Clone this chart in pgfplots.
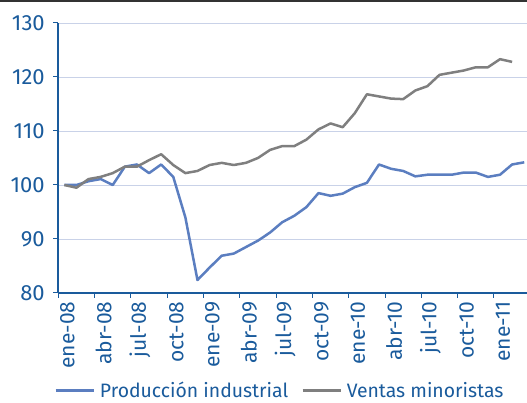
\documentclass[border=0pt]{standalone}
\usepackage{fontspec}
\setmainfont{Fira Sans}
\usepackage{pgfplots}
\pgfplotsset{compat=1.18}
\definecolor{axblue}{HTML}{1A5B9C}
\definecolor{serblue}{HTML}{5B7EC0}
\definecolor{sergray}{HTML}{7F7F7F}
\definecolor{gridc}{HTML}{C9D2E8}
\begin{document}
\begin{tikzpicture}
\begin{axis}[
  at={(0,0)}, anchor=south west,
  scale only axis, width=468.7pt, height=270pt,
  xmin=-0.5, xmax=38.23, ymin=80, ymax=130,
  axis x line=bottom, axis y line=left,
  axis line style={draw=axblue, line width=1.6pt, -},
  ytick={80,90,...,130},
  ymajorgrids, grid style={draw=gridc, line width=0.9pt},
  tick align=outside,
  ytick style={draw=axblue, line width=1pt},
  major tick length=5pt,
  xtick={0,3,...,36},
  xticklabels={ene-08,abr-08,jul-08,oct-08,ene-09,abr-09,jul-09,oct-09,ene-10,abr-10,jul-10,oct-10,ene-11},
  xtick style={draw=none},
  extra x ticks={-0.5,2.5,...,36.5},
  extra x tick labels={},
  extra x tick style={xtick style={draw=axblue, line width=1pt}, grid=none},
  xticklabel style={rotate=90, anchor=east, yshift=-3pt, font=\fontsize{21}{22}\selectfont, text=axblue},
  yticklabel style={xshift=-5pt, font=\fontsize{22}{24}\selectfont, text=axblue},
  /pgf/number format/assume math mode=true,
  legend style={at={(0.473,-0.362)}, anchor=center, draw=none, fill=none,
    legend columns=2, font=\fontsize{19.4}{21}\selectfont, text=axblue,
    /tikz/every odd column/.append style={column sep=3pt},
    /tikz/every even column/.append style={column sep=11pt}},
  legend image code/.code={\draw[#1] (0pt,0pt) -- (38pt,0pt);},
  clip=false,
]
\addplot[serblue, line width=2.5pt, line join=round] coordinates {
(0,100.0)(1,100.0)(2,100.7)(3,101.1)(4,100.0)(5,103.4)(6,103.8)(7,102.2)(8,103.8)(9,101.5)
(10,94.0)(11,82.4)(12,84.7)(13,86.9)(14,87.3)(15,88.5)(16,89.7)(17,91.2)(18,93.1)(19,94.3)
(20,95.9)(21,98.5)(22,98.0)(23,98.4)(24,99.6)(25,100.4)(26,103.8)(27,103.0)(28,102.6)(29,101.6)
(30,101.9)(31,101.9)(32,101.9)(33,102.3)(34,102.3)(35,101.5)(36,101.9)(37,103.8)(38,104.2)};
\addlegendentry{Producción industrial}
\addplot[sergray, line width=2.5pt, line join=round] coordinates {
(0,100.0)(1,99.5)(2,101.1)(3,101.5)(4,102.2)(5,103.4)(6,103.4)(7,104.6)(8,105.7)(9,103.7)
(10,102.2)(11,102.6)(12,103.7)(13,104.1)(14,103.7)(15,104.1)(16,105.0)(17,106.5)(18,107.2)(19,107.2)
(20,108.4)(21,110.3)(22,111.4)(23,110.7)(24,113.3)(25,116.8)(26,116.4)(27,116.0)(28,115.9)(29,117.5)
(30,118.3)(31,120.4)(32,120.8)(33,121.2)(34,121.8)(35,121.8)(36,123.3)(37,122.8)};
\addlegendentry{Ventas minoristas}
\end{axis}
\draw[line width=2pt, draw=black!80] (-58.3pt,292pt) -- (468.7pt,292pt);
\pgfresetboundingbox
\path[use as bounding box] (-58.3pt,-110pt) rectangle (468.7pt,293pt);
\end{tikzpicture}
\end{document}
